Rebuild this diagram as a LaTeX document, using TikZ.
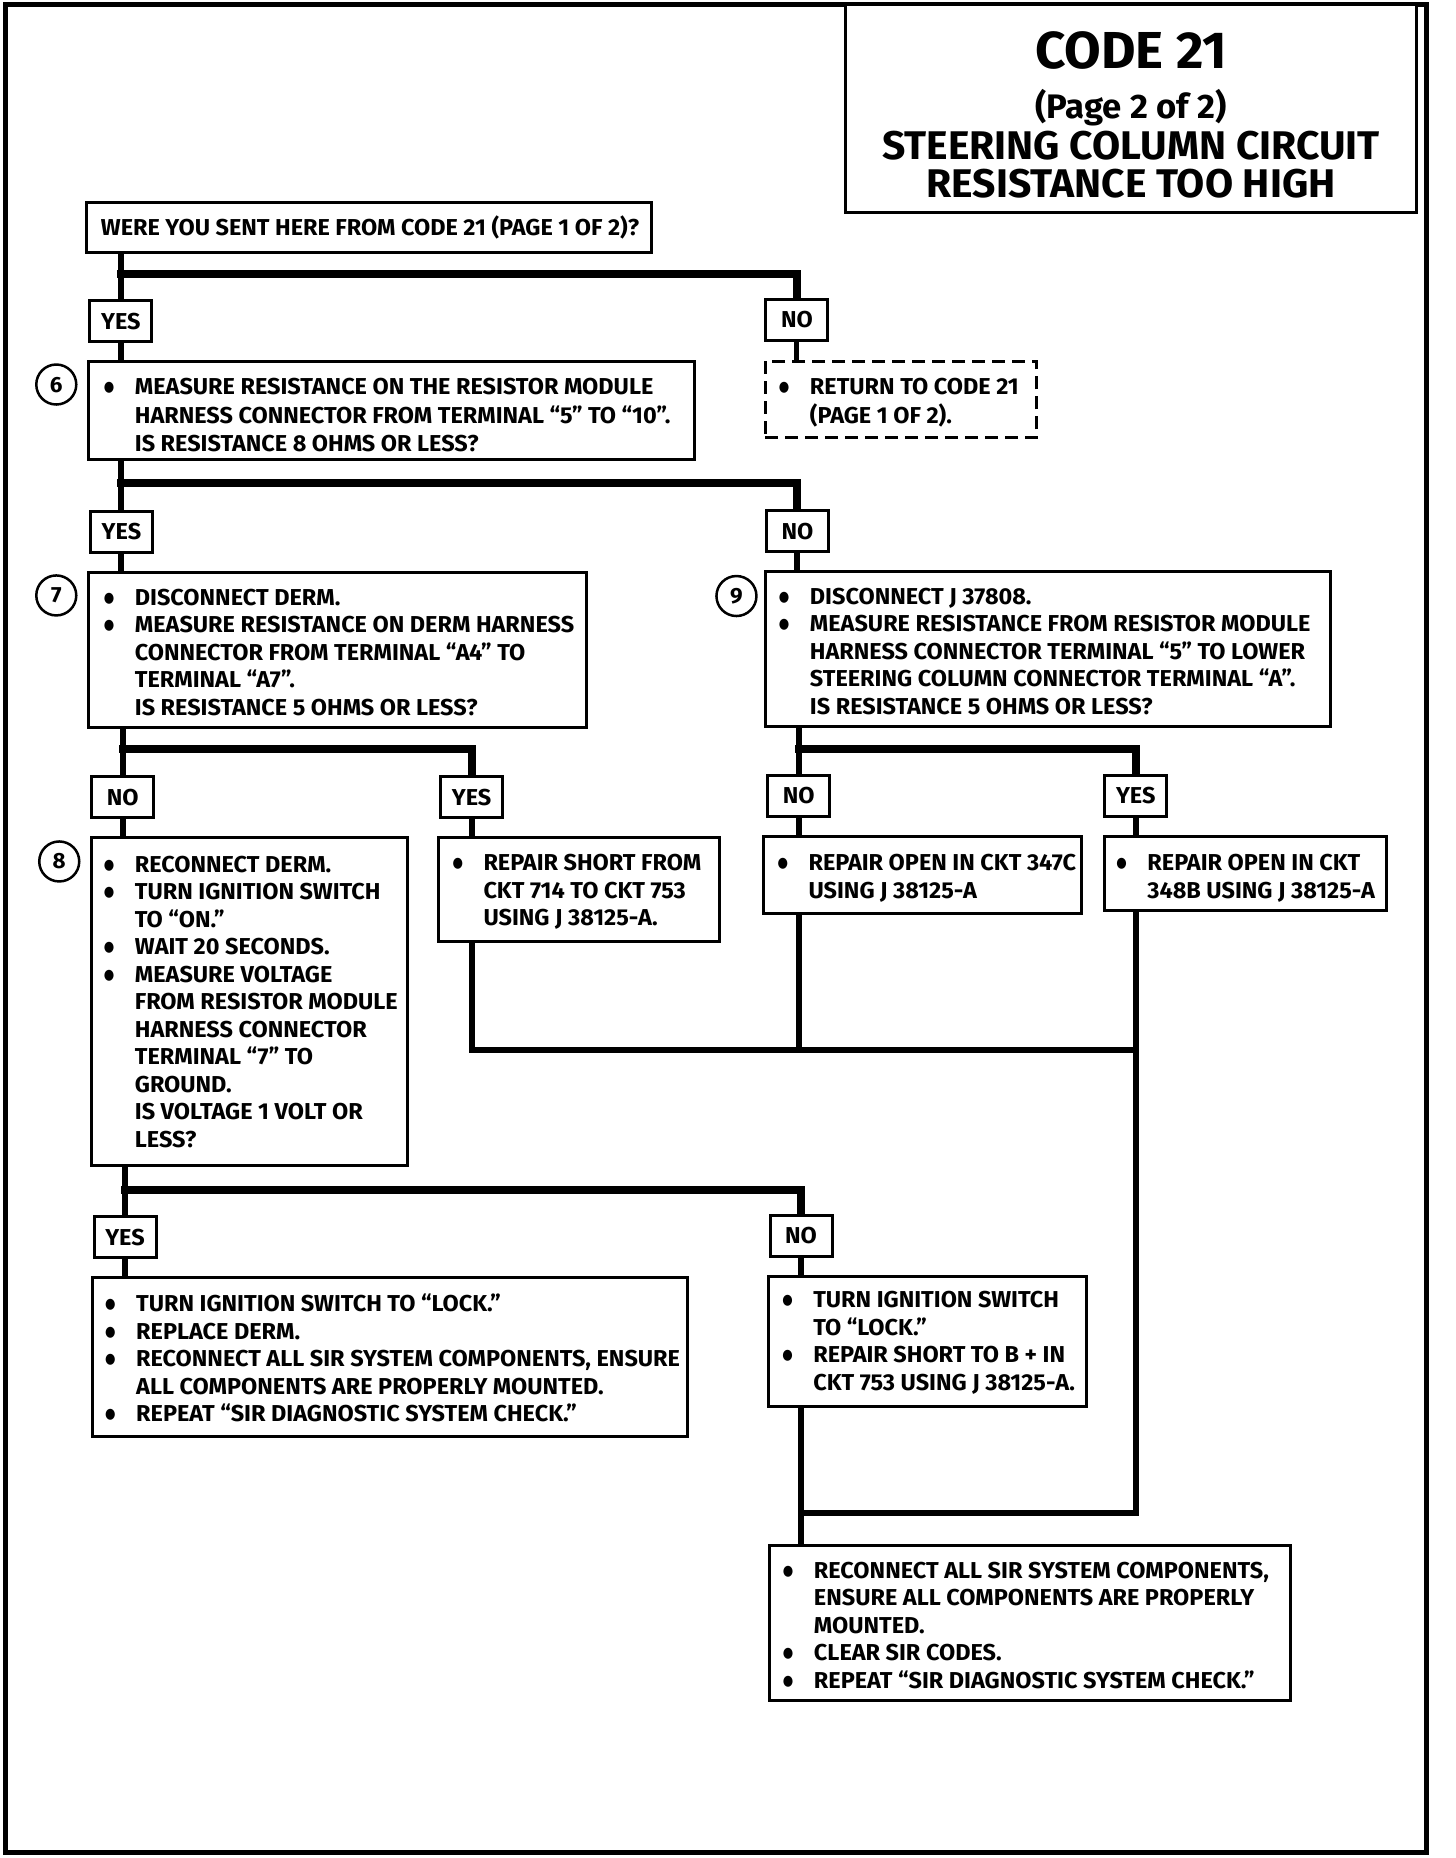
\documentclass[tikz,border=0pt]{standalone}
\usepackage{fontspec}
\usetikzlibrary{fit}
\newfontfamily\ffb{Fira Sans}[FakeStretch=1.02]
\newfontfamily\djv{DejaVu Sans}
\newcommand\bul{\makebox[31pt][l]{\raisebox{3.2pt}{\scalebox{1}[1.2]{\djv\fontsize{12}{12}\selectfont ●}}}}
\newcommand\rows[1]{\begin{tabular}[t]{@{}l@{}l@{}}#1\end{tabular}}
\begin{document}
\begin{tikzpicture}[x=1.185pt, y=-1.185pt,
  box/.style={draw, line width=3pt, fill=white, inner sep=0pt},
  dbox/.style={box, dash pattern=on 13pt off 7pt},
  lab/.style={draw, line width=3pt, fill=white, inner sep=0pt, minimum width=62pt, minimum height=41pt, text height=15.8pt, text depth=0pt, font=\ffb\bfseries\fontsize{23}{26}\selectfont},
  num/.style={draw, circle, line width=2.5pt, fill=white, inner sep=0pt, minimum size=40pt, text height=15pt, text depth=0pt, font=\ffb\bfseries\fontsize{22}{24}\selectfont},
  txt/.style={anchor=base west, inner sep=0pt, font=\ffb\bfseries\fontsize{23}{27.5}\selectfont},
  ttl/.style={anchor=base, inner sep=0pt},
  conn/.style={line width=6pt},
  bar/.style={line width=8pt, line cap=rect, shorten >=4pt},
]
\useasboundingbox (0,0) rectangle (1228.7,1568);
% frame and title
\node[draw, line width=5pt, inner sep=0pt, fit={(5,4) (1204,1563.5)}] (frame) {};
\node[box, fit={(713.5,4) (1195.5,179)}] (title) {};
\node[ttl, font=\ffb\bfseries\fontsize{52}{52}\selectfont] (t1) at (954.5,58) {CODE 21};
\node[ttl, font=\ffb\bfseries\fontsize{34}{34}\selectfont] (t2) at (954.5,100) {(Page 2 of 2)};
\node[ttl, font=\ffb\bfseries\fontsize{40}{40}\selectfont] (t3) at (954.5,135) {STEERING COLUMN CIRCUIT};
\node[ttl, font=\ffb\bfseries\fontsize{40}{40}\selectfont] (t4) at (954.5,167) {RESISTANCE TOO HIGH};

% boxes
\node[box, fit={(73.3,170.6) (549.6,213)}] (q) {};
\node[box, fit={(74.4,304.7) (585.7,388)}] (b6) {};
\node[dbox, fit={(645.6,304.7) (874.8,369.5)}] (ret) {};
\node[box, fit={(74.8,483.4) (494.8,614)}] (b7) {};
\node[box, fit={(645.6,482.5) (1122.4,613.5)}] (b9) {};
\node[box, fit={(77.2,706.4) (343.5,983.7)}] (b8) {};
\node[box, fit={(370.2,706.4) (607.3,794.8)}] (bshort) {};
\node[box, fit={(644.5,705.8) (912.9,771.3)}] (b347) {};
\node[box, fit={(931.7,705.8) (1169.9,768.5)}] (b348) {};
\node[box, fit={(78.4,1078) (579.8,1212)}] (byes) {};
\node[box, fit={(648.8,1077.6) (917.2,1187.3)}] (block) {};
\node[box, fit={(649.6,1304.2) (1089.2,1435.4)}] (bfin) {};

% labels
\node[lab] (yes1) at (102,271) {YES};
\node[lab] (no1) at (672.5,270) {NO};
\node[lab] (yes2) at (102.5,449) {YES};
\node[lab] (no2) at (673,448.5) {NO};
\node[lab] (no3) at (103.5,673) {NO};
\node[lab] (yes3) at (398,673) {YES};
\node[lab] (no4) at (674,671.5) {NO};
\node[lab] (yes4) at (958.5,671.5) {YES};
\node[lab] (yes5) at (105.5,1044) {YES};
\node[lab] (no5) at (676,1043) {NO};

% step numbers
\node[num] (c6) at (47.5,324.5) {6};
\node[num] (c7) at (47.5,502.5) {7};
\node[num] (c8) at (50,727) {8};
\node[num] (c9) at (621.5,503) {9};

% coordinates of the bars
\coordinate (j1) at (0,231);
\coordinate (j2) at (0,408);
\coordinate (j3) at (0,632.5);
\coordinate (j5) at (0,886);
\coordinate (j6) at (0,1004);
\coordinate (j7) at (0,1277);

% connectors
\draw[conn] (q.south -| yes1.north) -- (yes1.north);
\draw[bar] (yes1.north |- j1) -- (no1.north |- j1) -- (no1.north);
\draw[conn] (yes1.south) -- (yes1.south |- b6.north);
\draw[line width=5pt] (no1.south) -- (no1.south |- ret.north);
\draw[conn] (b6.south -| yes2.north) -- (yes2.north);
\draw[bar] (yes2.north |- j2) -- (no2.north |- j2) -- (no2.north);
\draw[conn] (yes2.south) -- (yes2.south |- b7.north);
\draw[conn] (no2.south) -- (no2.south |- b9.north);
\draw[conn] (b7.south -| no3.north) -- (no3.north);
\draw[bar] (no3.north |- j3) -- (yes3.north |- j3) -- (yes3.north);
\draw[conn] (b9.south -| no4.north) -- (no4.north);
\draw[bar] (no4.north |- j3) -- (yes4.north |- j3) -- (yes4.north);
\draw[conn] (no3.south) -- (no3.south |- b8.north);
\draw[conn] (yes3.south) -- (yes3.south |- bshort.north);
\draw[conn] (no4.south) -- (no4.south |- b347.north);
\draw[conn] (yes4.south) -- (yes4.south |- b348.north);
\draw[conn, line cap=rect] (bshort.south -| yes3.south) -- (yes3.south |- j5) -- (yes4.south |- j5);
\draw[conn] (b347.south -| no4.south) -- (no4.south |- j5);
\draw[conn, line cap=rect] (b348.south -| yes4.south) -- (yes4.south |- j7) -- (no5.south |- j7);
\draw[conn] (b8.south -| yes5.north) -- (yes5.north);
\draw[bar] (yes5.north |- j6) -- (no5.north |- j6) -- (no5.north);
\draw[conn] (yes5.south) -- (yes5.south |- byes.north);
\draw[conn] (no5.south) -- (no5.south |- block.north);
\draw[conn] (block.south -| no5.south) -- (no5.south |- bfin.north);

% texts
\node[txt] (tq) at (85,198.5) {WERE YOU SENT HERE FROM CODE 21 (PAGE 1 OF 2)?};
\node[txt] (t6) at (87.5,333) {\fontsize{23}{28.5}\selectfont\rows{\bul&MEASURE RESISTANCE ON THE RESISTOR MODULE\\&HARNESS CONNECTOR FROM TERMINAL “5” TO “10”.\\&IS RESISTANCE 8 OHMS OR LESS?}};
\node[txt] (tret) at (657.2,333) {\fontsize{23}{28.5}\selectfont\rows{\bul&RETURN TO CODE 21\\&(PAGE 1 OF 2).}};
\node[txt] (t7) at (87.5,510.8) {\rows{\bul&DISCONNECT DERM.\\\bul&MEASURE RESISTANCE ON DERM HARNESS\\&CONNECTOR FROM TERMINAL “A4” TO\\&TERMINAL “A7”.\\&IS RESISTANCE 5 OHMS OR LESS?}};
\node[txt] (t9) at (657.2,510.1) {\rows{\bul&DISCONNECT J 37808.\\\bul&MEASURE RESISTANCE FROM RESISTOR MODULE\\&HARNESS CONNECTOR TERMINAL “5” TO LOWER\\&STEERING COLUMN CONNECTOR TERMINAL “A”.\\&IS RESISTANCE 5 OHMS OR LESS?}};
\node[txt] (t8) at (87.5,736.3) {\rows{\bul&RECONNECT DERM.\\\bul&TURN IGNITION SWITCH\\&TO “ON.”\\\bul&WAIT 20 SECONDS.\\\bul&MEASURE VOLTAGE\\&FROM RESISTOR MODULE\\&HARNESS CONNECTOR\\&TERMINAL “7” TO\\&GROUND.\\&IS VOLTAGE 1 VOLT OR\\&LESS?}};
\node[txt] (tshort) at (381.7,734.7) {\rows{\bul&REPAIR SHORT FROM\\&CKT 714 TO CKT 753\\&USING J 38125-A.}};
\node[txt] (t347) at (656,734.7) {\rows{\bul&REPAIR OPEN IN CKT 347C\\&USING J 38125-A}};
\node[txt] (t348) at (942,734.7) {\rows{\bul&REPAIR OPEN IN CKT\\&348B USING J 38125-A}};
\node[txt] (tyes) at (88.6,1107) {\rows{\bul&TURN IGNITION SWITCH TO “LOCK.”\\\bul&REPLACE DERM.\\\bul&RECONNECT ALL SIR SYSTEM COMPONENTS, ENSURE\\&ALL COMPONENTS ARE PROPERLY MOUNTED.\\\bul&REPEAT “SIR DIAGNOSTIC SYSTEM CHECK.”}};
\node[txt] (tlock) at (660,1103.7) {\rows{\bul&TURN IGNITION SWITCH\\&TO “LOCK.”\\\bul&REPAIR SHORT TO B + IN\\&CKT 753 USING J 38125-A.}};
\node[txt] (tfin) at (660.6,1332) {\rows{\bul&RECONNECT ALL SIR SYSTEM COMPONENTS,\\&ENSURE ALL COMPONENTS ARE PROPERLY\\&MOUNTED.\\\bul&CLEAR SIR CODES.\\\bul&REPEAT “SIR DIAGNOSTIC SYSTEM CHECK.”}};
\end{tikzpicture}
\end{document}
